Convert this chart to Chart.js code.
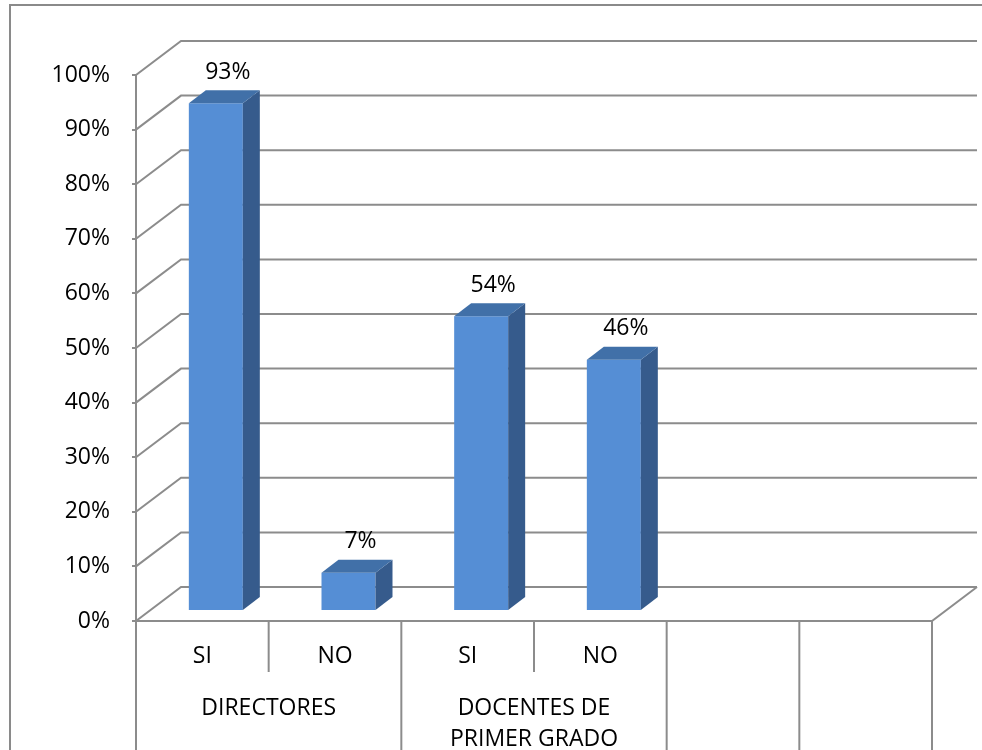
<!DOCTYPE html>
<html>
<head>
<meta charset="utf-8">
<script src="https://cdn.jsdelivr.net/npm/chart.js@4/dist/chart.umd.min.js"></script>
<style>
  html, body { margin: 0; padding: 0; background: #fff; }
  canvas { display: block; }
</style>
</head>
<body>
<canvas id="c" width="982" height="750"></canvas>
<script>
// ---- data ----
const categories = ['SI', 'NO', 'SI', 'NO', '', ''];
const values = [93, 7, 54, 46, null, null];
const valueLabels = ['93%', '7%', '54%', '46%', '', ''];
const groupLabels = [['DIRECTORES'], ['DOCENTES DE', 'PRIMER GRADO'], [''], ['']];
const groupSizes = [2, 2, 1, 1];
const yTickLabels = ['0%', '10%', '20%', '30%', '40%', '50%', '60%', '70%', '80%', '90%', '100%'];

// ---- style ----
const FONT = { family: "'Open Sans', 'Noto Sans', sans-serif", size: 23 };
const FONT_CSS = "23px 'Open Sans', 'Noto Sans', sans-serif";
const GRID = '#8c8c8c';
const FRONT = '#558ED5', SIDE = '#365B8C', TOP = '#4170A8';
const WALL_DX = 45, WALL_DY = -34;     // depth of the 3D box
const BAR_DX = 13.5, BAR_DY = -10;     // bar placement inside depth
const BAR_DEPTH_X = 17, BAR_DEPTH_Y = -13;

function line(ctx, pts) {
  ctx.beginPath();
  ctx.moveTo(pts[0][0], pts[0][1]);
  for (let i = 1; i < pts.length; i++) ctx.lineTo(pts[i][0], pts[i][1]);
  ctx.stroke();
}
function poly(ctx, pts, color) {
  ctx.beginPath();
  ctx.moveTo(pts[0][0], pts[0][1]);
  for (let i = 1; i < pts.length; i++) ctx.lineTo(pts[i][0], pts[i][1]);
  ctx.closePath();
  ctx.fillStyle = color;
  ctx.fill();
}

const threeD = {
  id: 'threeD',
  beforeDraw(chart) {
    const ctx = chart.ctx;
    ctx.save();
    ctx.fillStyle = '#fff';
    ctx.fillRect(0, 0, chart.width, chart.height);
    ctx.strokeStyle = '#8a8a8a';
    ctx.lineWidth = 2;
    line(ctx, [[10, chart.height + 5], [10, 5], [chart.width + 5, 5]]);
    ctx.restore();
  },
  beforeDatasetsDraw(chart) {
    const ctx = chart.ctx;
    const a = chart.chartArea;
    const ys = chart.scales.y, xs = chart.scales.x;
    ctx.save();
    ctx.strokeStyle = GRID;
    ctx.lineWidth = 2;
    // side + back wall grid lines
    ys.ticks.forEach(t => {
      const y = ys.getPixelForValue(t.value);
      line(ctx, [[a.left, y], [a.left + WALL_DX, y + WALL_DY], [a.right + WALL_DX, y + WALL_DY]]);
    });
    // floor
    line(ctx, [[a.left, a.bottom], [a.right, a.bottom], [a.right + WALL_DX, a.bottom + WALL_DY]]);
    // front axis line, down through the category table
    line(ctx, [[a.left, a.top], [a.left, chart.height]]);
    // category dividers
    const n = categories.length;
    const pix = categories.map((c, i) => xs.getPixelForValue(i));
    const bounds = [a.left];
    for (let i = 0; i < n - 1; i++) bounds.push((pix[i] + pix[i + 1]) / 2);
    bounds.push(a.right);
    const groupEdges = new Set();
    let acc = 0;
    groupSizes.forEach(s => { acc += s; groupEdges.add(acc); });
    for (let i = 1; i <= n; i++) {
      const full = groupEdges.has(i);
      line(ctx, [[bounds[i], a.bottom], [bounds[i], full ? chart.height : a.bottom + 51]]);
    }
    ctx.restore();
    ctx.save();
    ctx.translate(BAR_DX, BAR_DY);
  },
  afterDatasetsDraw(chart) {
    const ctx = chart.ctx;
    const meta = chart.getDatasetMeta(0);
    meta.data.forEach((el, i) => {
      const p = el.getProps(['x', 'y', 'base', 'width'], true);
      if (values[i] == null || !isFinite(p.y)) return;
      const l = p.x - p.width / 2, r = p.x + p.width / 2;
      poly(ctx, [[r, p.y], [r + BAR_DEPTH_X, p.y + BAR_DEPTH_Y], [r + BAR_DEPTH_X, p.base + BAR_DEPTH_Y], [r, p.base]], SIDE);
      poly(ctx, [[l, p.y], [l + BAR_DEPTH_X, p.y + BAR_DEPTH_Y], [r + BAR_DEPTH_X, p.y + BAR_DEPTH_Y], [r, p.y]], TOP);
    });
    ctx.restore();
    // value labels
    ctx.save();
    ctx.font = FONT_CSS;
    ctx.fillStyle = '#000';
    ctx.textAlign = 'center';
    ctx.textBaseline = 'middle';
    meta.data.forEach((el, i) => {
      const p = el.getProps(['x', 'y'], true);
      if (values[i] == null || !isFinite(p.y)) return;
      ctx.fillText(valueLabels[i], p.x + BAR_DX + 12, p.y + BAR_DY - 31);
    });
    // group labels
    const xs = chart.scales.x;
    let start = 0;
    groupSizes.forEach((s, g) => {
      const cx = (xs.getPixelForValue(start) + xs.getPixelForValue(start + s - 1)) / 2;
      groupLabels[g].forEach((txt, k) => {
        if (txt) ctx.fillText(txt, cx, 708 + k * 31);
      });
      start += s;
    });
    ctx.restore();
  }
};

new Chart(document.getElementById('c'), {
  type: 'bar',
  data: {
    labels: categories,
    datasets: [{
      data: values,
      backgroundColor: FRONT,
      borderWidth: 0,
      categoryPercentage: 1,
      barPercentage: 0.407
    }]
  },
  options: {
    responsive: false,
    animation: false,
    layout: { padding: { left: 10, right: 50, top: 75, bottom: 0 } },
    plugins: { legend: { display: false }, tooltip: { enabled: false } },
    scales: {
      x: {
        offset: true,
        grid: { display: false, drawTicks: false },
        border: { display: false },
        ticks: { autoSkip: false, maxRotation: 0, padding: 22, font: FONT, color: '#000' },
        afterFit(s) { s.height = 129; }
      },
      y: {
        min: 0, max: 100,
        ticks: { stepSize: 10, padding: 22, font: FONT, color: '#000',
                 callback: (v, i) => yTickLabels[i] },
        grid: { display: true, drawOnChartArea: false, drawTicks: true, tickLength: 4, color: GRID, lineWidth: 2 },
        border: { display: false },
        afterFit(s) { s.width = 126; }
      }
    }
  },
  plugins: [threeD]
});
</script>
</body>
</html>
